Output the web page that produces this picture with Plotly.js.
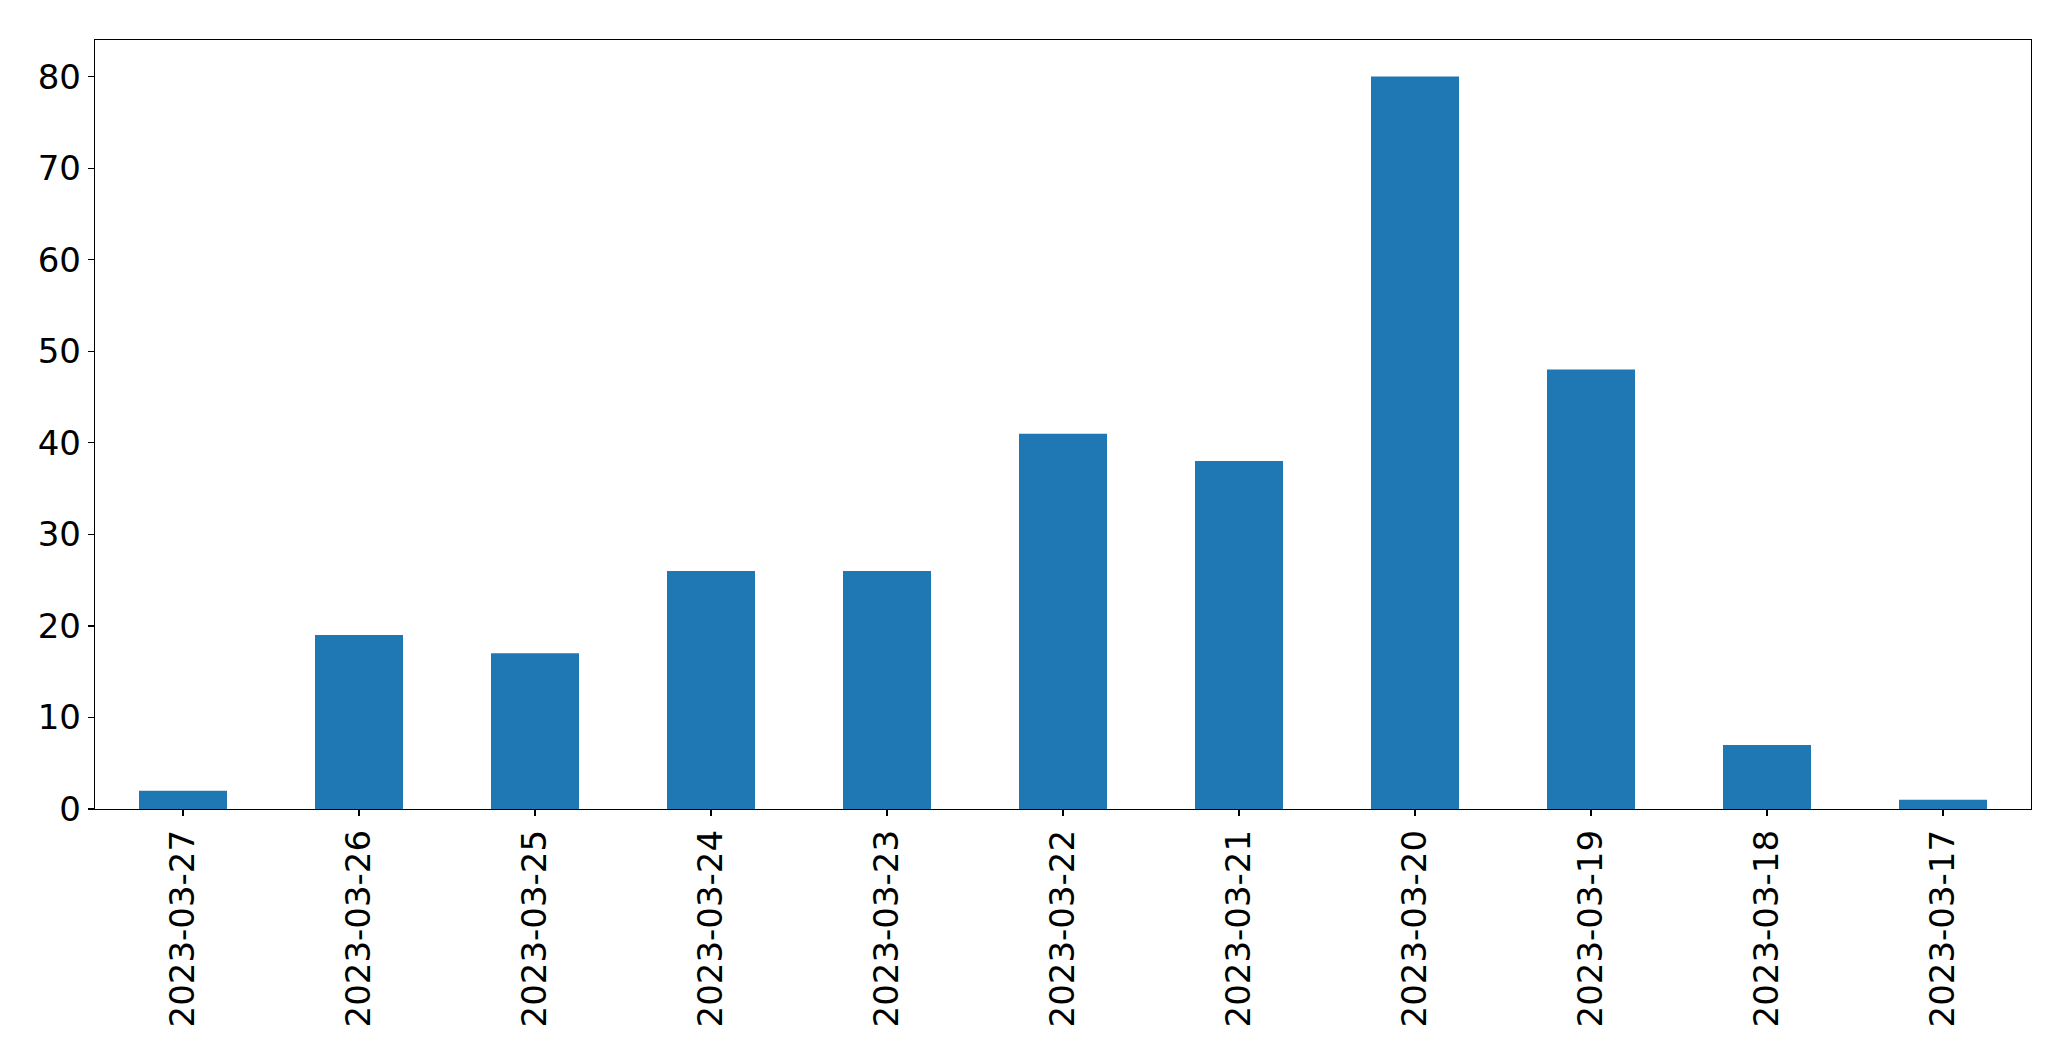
<!DOCTYPE html>
<html>
<head>
<meta charset="utf-8">
<script src="https://cdn.plot.ly/plotly-3.0.1.min.js"></script>
<style>html,body{margin:0;padding:0;background:#fff;}#chart{width:2071px;height:1061px;}</style>
</head>
<body>
<div id="chart"></div>
<script>
const dates = ["2023-03-27","2023-03-26","2023-03-25","2023-03-24","2023-03-23","2023-03-22","2023-03-21","2023-03-20","2023-03-19","2023-03-18","2023-03-17"];
const counts = [2, 19, 17, 26, 26, 41, 38, 80, 48, 7, 1];
const yTicks = [0, 10, 20, 30, 40, 50, 60, 70, 80];

const trace = {
  type: "bar",
  x: dates,
  y: counts,
  width: 0.5,
  marker: {color: "#1f77b4", line: {width: 0}},
  hoverinfo: "x+y"
};

const layout = {
  width: 2071,
  height: 1061,
  margin: {l: 95, r: 40, t: 40, b: 252, pad: 0},
  paper_bgcolor: "#fff",
  plot_bgcolor: "#fff",
  showlegend: false,
  font: {family: "DejaVu Sans", size: 34, color: "#000"},
  xaxis: {
    type: "category",
    range: [-0.5, 10.5],
    tickangle: -90,
    ticks: "outside",
    ticklen: 6,
    tickwidth: 1.2,
    tickcolor: "#000",
    showline: true,
    mirror: true,
    linecolor: "#000",
    linewidth: 1.3,
    showgrid: false,
    zeroline: false,
    tickfont: {family: "DejaVu Sans", size: 34, color: "#000"}
  },
  yaxis: {
    range: [0, 84],
    tickvals: yTicks,
    ticktext: yTicks.map(String),
    ticks: "outside",
    ticklen: 6,
    tickwidth: 1.2,
    tickcolor: "#000",
    showline: true,
    mirror: true,
    linecolor: "#000",
    linewidth: 1.3,
    showgrid: false,
    zeroline: false,
    tickfont: {family: "DejaVu Sans", size: 34, color: "#000"}
  }
};

Plotly.newPlot("chart", [trace], layout, {displayModeBar: false, staticPlot: true});
</script>
</body>
</html>
